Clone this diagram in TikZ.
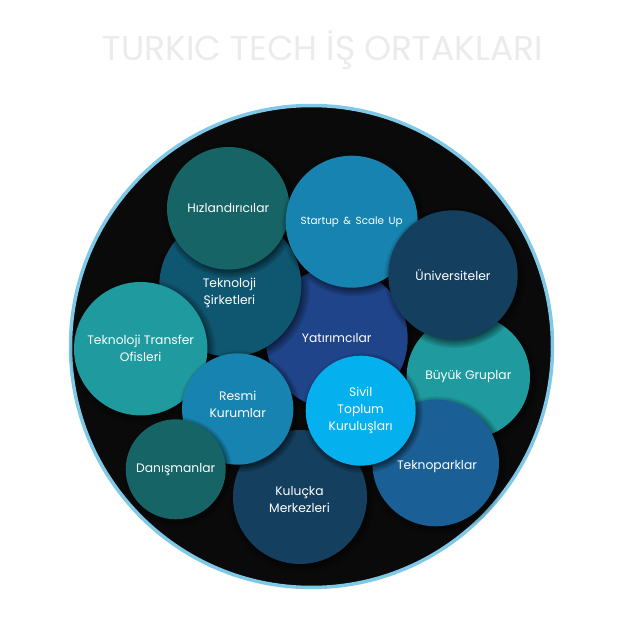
\documentclass[tikz,border=0pt]{standalone}
\usepackage{fontspec}
\setmainfont{Poppins}
\usetikzlibrary{shadows}
\definecolor{rim}{HTML}{7FC8E8}
\definecolor{ground}{HTML}{0A0A0A}
\definecolor{darkteal}{HTML}{166466}
\definecolor{midteal}{HTML}{1F9A9E}
\definecolor{oceanblue}{HTML}{1783B0}
\definecolor{petrol}{HTML}{0F5670}
\definecolor{royal}{HTML}{1F4489}
\definecolor{navy}{HTML}{143F5F}
\definecolor{steel}{HTML}{1A5F95}
\definecolor{cyan}{HTML}{05B0EF}
\begin{document}
\begin{tikzpicture}[x=1pt, y=-1pt,
    caption/.style={align=center, text=white, inner sep=0pt, font=\fontsize{12.3}{17}\selectfont},
    bubble/.style={circle, caption,
      circular drop shadow={shadow xshift=1.5pt, shadow yshift=-2pt, opacity=.6, fill=black}}]
    \useasboundingbox (0,0) rectangle (641,623);
    \node (title) at (323,50) {\fontsize{34.5}{40}\selectfont\color{black!8}TURKIC TECH İŞ ORTAKLARI};
    \node (frame) [circle, minimum size=482pt, fill=ground, draw=rim, line width=3.5pt] at (311.5,346.5) {};
    \node (yat) [bubble, fill=royal, minimum size=142pt] at (336.7,338.5) {Yatırımcılar};
    \node (kul) [bubble, fill=navy, minimum size=134pt] at (300,497) {};
    \node (kul-text) [caption] at (299.5,500) {Kuluçka\\Merkezleri};
    \node (sir) [bubble, fill=petrol, minimum size=142pt] at (230.3,285.7) {};
    \node (sir-text) [caption] at (229.5,293) {Teknoloji\\Şirketleri};
    \node (hiz) [bubble, fill=darkteal, minimum size=122.6pt] at (228.3,208.3) {Hızlandırıcılar};
    \node (start) [bubble, fill=oceanblue, minimum size=132pt, font=\fontsize{10.4}{13}\selectfont] at (351.7,221.7) {Startup \,\&\, Scale\, Up};
    \node (buy) [bubble, fill=midteal, minimum size=123.4pt] at (468.3,376.7) {Büyük Gruplar};
    \node (uni) [bubble, fill=navy, minimum size=129.4pt] at (453,275) {Üniversiteler};
    \node (park) [bubble, fill=steel, minimum size=126.6pt] at (435.7,463) {};
    \node (park-text) [caption] at (437,467) {Teknoparklar};
    \node (tto) [bubble, fill=midteal, minimum size=133.4pt] at (140.7,348.7) {Teknoloji Transfer\\Ofisleri};
    \node (resmi) [bubble, fill=oceanblue, minimum size=111.4pt] at (237.7,409) {};
    \node (resmi-text) [caption] at (237.7,404.5) {Resmi\\Kurumlar};
    \node (dan) [bubble, fill=darkteal, minimum size=100pt] at (175.7,469.3) {Danışmanlar};
    \node (stk) [bubble, fill=cyan, minimum size=110pt] at (360.7,410.7) {Sivil\\Toplum\\Kuruluşları};
\end{tikzpicture}
\end{document}
